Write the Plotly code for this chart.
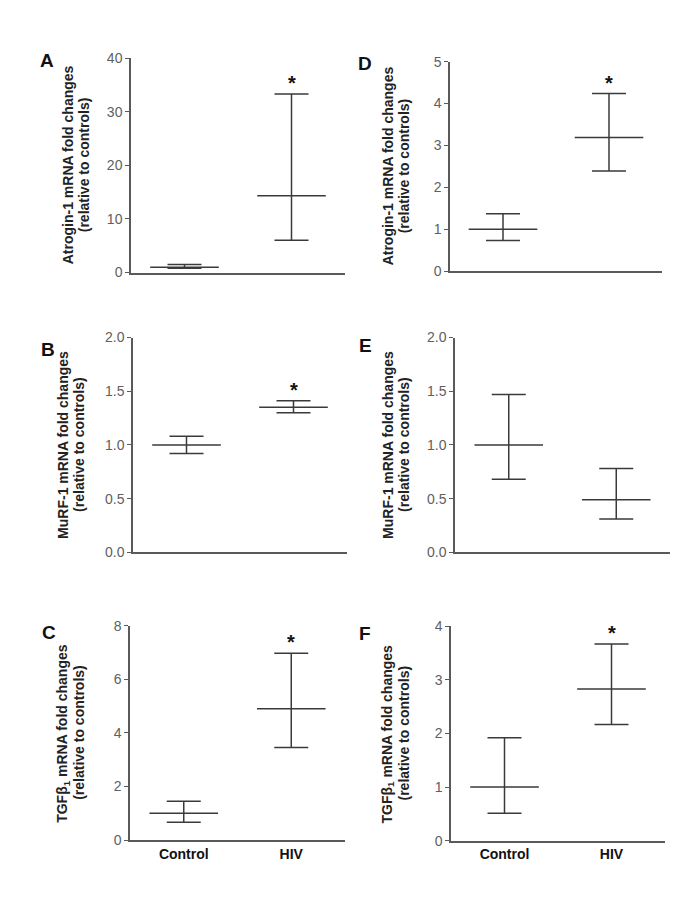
import plotly.graph_objects as go

groups = ["Control", "HIV"]

# mean / lower / upper
atrogin_a_mean = [1.0, 14.3]
atrogin_a_low = [0.8, 6.0]
atrogin_a_high = [1.5, 33.3]

murf_b_mean = [1.0, 1.35]
murf_b_low = [0.92, 1.30]
murf_b_high = [1.08, 1.41]

tgf_c_mean = [1.0, 4.9]
tgf_c_low = [0.66, 3.45]
tgf_c_high = [1.45, 6.97]

atrogin_d_mean = [1.0, 3.19]
atrogin_d_low = [0.73, 2.39]
atrogin_d_high = [1.37, 4.24]

murf_e_mean = [1.0, 0.49]
murf_e_low = [0.68, 0.31]
murf_e_high = [1.47, 0.78]

tgf_f_mean = [1.0, 2.83]
tgf_f_low = [0.51, 2.17]
tgf_f_high = [1.92, 3.67]

signif = [
    [False, True],
    [False, True],
    [False, True],
    [False, True],
    [False, False],
    [False, True],
]

y_titles = [
    ("Atrogin-1 mRNA fold changes", "(relative to controls)"),
    ("MuRF-1 mRNA fold changes", "(relative to controls)"),
    ("TGFβ<sub>1</sub> mRNA fold changes", "(relative to controls)"),
]
y_ranges = [[0, 40], [0, 2.0], [0, 8], [0, 5], [0, 2.0], [0, 4]]
y_dticks = [10, 0.5, 2, 1, 0.5, 1]
y_formats = ["d", ".1f", "d", "d", ".1f", "d"]
letters = ["A", "B", "C", "D", "E", "F"]

W, H = 685, 913
# plot boxes in pixels: (left, right, top, bottom)
boxes = [
    (131, 345, 58, 272.5),
    (133, 347, 337.5, 552.3),
    (130, 345, 625.7, 840),
    (450, 662, 61.7, 271),
    (455, 670, 337.5, 552.3),
    (451, 665, 626.3, 840.7),
]
letter_pos = [(47, 60), (48, 349), (49, 632), (365, 63), (365, 346), (365, 633)]
# x centre of the two title lines
title_x = [(68, 84), (63, 79), (63, 79), (388, 404), (388, 404), (387, 403)]

data = [
    (atrogin_a_mean, atrogin_a_low, atrogin_a_high),
    (murf_b_mean, murf_b_low, murf_b_high),
    (tgf_c_mean, tgf_c_low, tgf_c_high),
    (atrogin_d_mean, atrogin_d_low, atrogin_d_high),
    (murf_e_mean, murf_e_low, murf_e_high),
    (tgf_f_mean, tgf_f_low, tgf_f_high),
]

line_col = "#3a3a3a"
axis_col = "#5a5a5a"
font = "Liberation Sans, Arial, sans-serif"

fig = go.Figure()

for i, (mean, low, high) in enumerate(data):
    n = i + 1
    xa = "x" if n == 1 else f"x{n}"
    ya = "y" if n == 1 else f"y{n}"
    fig.add_trace(go.Scatter(
        x=[0, 1], y=mean, xaxis=xa, yaxis=ya, mode="markers",
        marker=dict(symbol="line-ew", size=49, color=line_col,
                    line=dict(color=line_col, width=1.5)),
        error_y=dict(type="data", symmetric=False,
                     array=[h - m for h, m in zip(high, mean)],
                     arrayminus=[m - l for m, l in zip(mean, low)],
                     width=17, thickness=1.5, color=line_col),
        showlegend=False, hoverinfo="skip", cliponaxis=False,
    ))

    l, r, t, b = boxes[i]
    xkey = "xaxis" if n == 1 else f"xaxis{n}"
    ykey = "yaxis" if n == 1 else f"yaxis{n}"
    bottom_row = i in (2, 5)
    fig.layout[xkey] = dict(
        domain=[l / W, r / W], anchor=ya, range=[-0.5, 1.5],
        tickvals=[0, 1], ticktext=[f"<b>{g}</b>" for g in groups],
        showticklabels=bottom_row, ticks="", showgrid=False, zeroline=False,
        showline=True, linecolor=axis_col, linewidth=1.5,
        tickfont=dict(family=font, size=14, color="#111"),
        ticklabelstandoff=0, automargin=False, fixedrange=True,
    )
    fig.layout[ykey] = dict(
        domain=[1 - b / H, 1 - t / H], anchor=xa, range=y_ranges[i],
        dtick=y_dticks[i], tick0=0, tickformat=y_formats[i],
        ticks="outside", ticklen=4, tickwidth=1.2, tickcolor=axis_col,
        showgrid=False, zeroline=False, showline=True,
        linecolor=axis_col, linewidth=1.5,
        tickfont=dict(family=font, size=14, color="#606060"),
        automargin=False, fixedrange=True,
    )

    for j in range(2):
        if signif[i][j]:
            fig.add_annotation(
                x=j, y=high[j], xref=xa, yref=ya, text="<b>*</b>",
                showarrow=False, xanchor="center", yanchor="bottom", yshift=-2,
                font=dict(family=font, size=20, color="#111"),
            )

    lx, ly = letter_pos[i]
    fig.add_annotation(
        x=lx / W, y=1 - ly / H, xref="paper", yref="paper",
        text=f"<b>{letters[i]}</b>", showarrow=False,
        xanchor="center", yanchor="middle",
        font=dict(family=font, size=19, color="#111"),
    )

    ymid = 1 - (t + b) / 2 / H
    for k, line in enumerate(y_titles[i % 3]):
        fig.add_annotation(
            x=title_x[i][k] / W, y=ymid, xref="paper", yref="paper",
            text=f"<b>{line}</b>", textangle=-90, showarrow=False,
            xanchor="center", yanchor="middle",
            font=dict(family=font, size=14, color="#222"),
        )

fig.update_layout(
    width=W, height=H, margin=dict(l=0, r=0, t=0, b=0),
    paper_bgcolor="white", plot_bgcolor="white",
)

fig.write_html("out.html", config={"displayModeBar": False},
               post_script="document.body.style.margin='0';")
